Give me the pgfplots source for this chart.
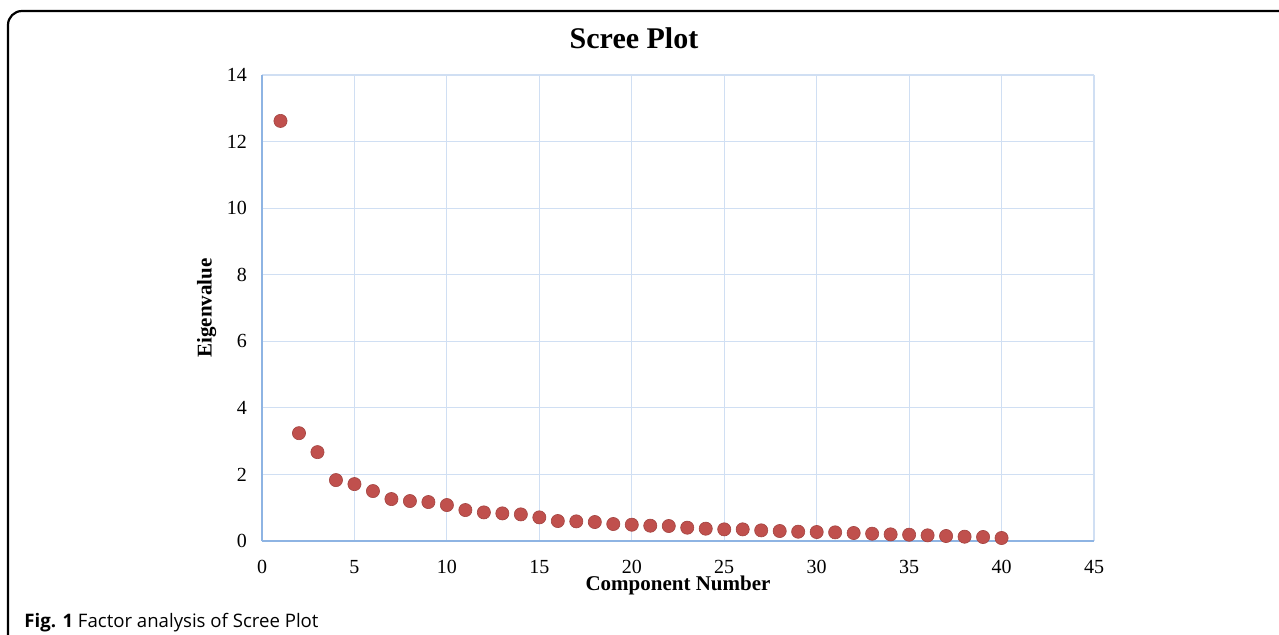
\documentclass[border=0pt]{standalone}
\usepackage{fontspec}
\setmainfont{Liberation Serif}
\newfontfamily\capfont{Open Sans}
\usepackage{pgfplots}
\pgfplotsset{compat=1.18}
\definecolor{PtRed}{HTML}{C0504D}
\definecolor{GridBlue}{HTML}{D0DFF3}
\definecolor{AxisBlue}{HTML}{8EB4E3}

\begin{document}
\begin{tikzpicture}
% page extent 1279 x 634 px, 1 px = 0.5pt, origin bottom left
\path[use as bounding box] (0,0) rectangle (639.5pt,317pt);
\draw[line width=1.1pt,rounded corners=7pt] (4pt,-3pt) -- (4pt,311.5pt) -- (642.5pt,311.5pt);
\node[font=\bfseries\fontsize{15}{18}\selectfont] at (317pt,298pt) {Scree Plot};
\node[anchor=base west,inner sep=0pt,font=\capfont\fontsize{9.3}{11}\selectfont] at (12pt,3.5pt) {\textbf{Fig. 1} Factor analysis of Scree Plot};
\begin{axis}[
 at={(131pt,46.5pt)}, anchor=origin,
 scale only axis, width=416pt, height=233pt,
 xmin=0, xmax=45, ymin=0, ymax=14,
 xtick={0,5,...,45}, ytick={0,2,...,14},
 grid=major, grid style={GridBlue, line width=0.6pt},
 axis line style={AxisBlue, line width=0.7pt},
 axis x line*=bottom, axis y line*=left,
 tick style={draw=none},
 tick label style={font=\fontsize{10}{12}\selectfont},
 /pgf/number format/assume math mode=true,
 xticklabel style={yshift=-6pt},
 yticklabel style={xshift=-4pt},
 xlabel={Component Number}, ylabel={Eigenvalue},
 label style={font=\bfseries\fontsize{10.5}{12}\selectfont},
 xlabel style={yshift=5.5pt},
 ylabel style={yshift=-1.5pt},
 clip=false,
]
\addplot[only marks, mark=*, mark size=3.3pt, mark options={fill=PtRed, draw=PtRed!85!black, line width=0.3pt}]
 coordinates {
 (1,12.62) (2,3.24) (3,2.67) (4,1.83) (5,1.71) (6,1.50) (7,1.26) (8,1.20)
 (9,1.17) (10,1.08) (11,0.93) (12,0.86) (13,0.83) (14,0.80) (15,0.71) (16,0.60)
 (17,0.59) (18,0.57) (19,0.51) (20,0.49) (21,0.46) (22,0.45) (23,0.40) (24,0.37)
 (25,0.35) (26,0.35) (27,0.32) (28,0.30) (29,0.28) (30,0.27) (31,0.26) (32,0.24)
 (33,0.22) (34,0.20) (35,0.19) (36,0.17) (37,0.15) (38,0.13) (39,0.12) (40,0.09)
 };
\end{axis}
\end{tikzpicture}
\end{document}
